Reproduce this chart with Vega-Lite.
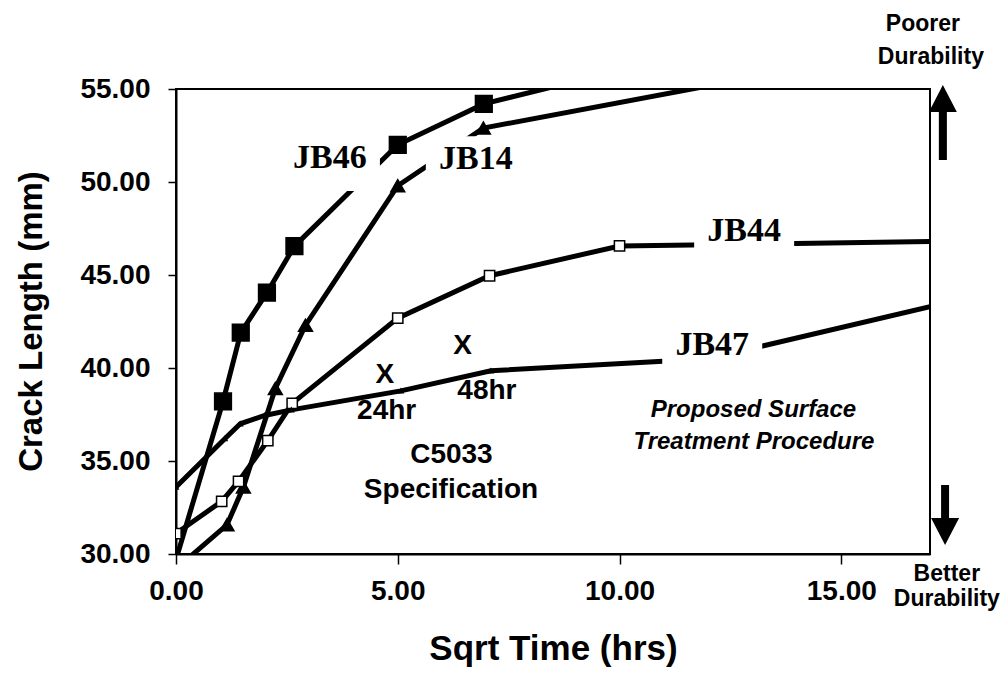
{
  "$schema": "https://vega.github.io/schema/vega-lite/v6.json",
  "width": 754,
  "height": 465,
  "autosize": {"type": "none"},
  "padding": {"left": 176, "top": 89, "right": 72, "bottom": 138},
  "background": "white",
  "config": {
    "view": {"stroke": "black", "strokeWidth": 2},
    "font": "Liberation Sans",
    "axis": {"grid": false, "domainColor": "black", "domainWidth": 2, "tickColor": "black", "tickWidth": 1.5, "labelColor": "black", "titleColor": "black", "labelFont": "Liberation Sans", "titleFont": "Liberation Sans", "labelFontWeight": "bold", "titleFontWeight": "bold", "labelFlush": false, "labelOverlap": false}
  },
  "datasets": {
    "curves": [
      {"s": "JB46", "t": 0, "len": 29.7},
      {"s": "JB46", "t": 1.06, "len": 38.2},
      {"s": "JB46", "t": 1.46, "len": 41.9},
      {"s": "JB46", "t": 2.05, "len": 44.05},
      {"s": "JB46", "t": 2.67, "len": 46.55},
      {"s": "JB46", "t": 5.0, "len": 52.0},
      {"s": "JB46", "t": 6.94, "len": 54.2},
      {"s": "JB46", "t": 10.0, "len": 56.0},
      {"s": "JB14", "t": 0, "len": 29.2},
      {"s": "JB14", "t": 1.15, "len": 31.57},
      {"s": "JB14", "t": 1.52, "len": 33.6},
      {"s": "JB14", "t": 2.24, "len": 38.9},
      {"s": "JB14", "t": 2.92, "len": 42.3},
      {"s": "JB14", "t": 5.0, "len": 49.8},
      {"s": "JB14", "t": 6.93, "len": 52.9},
      {"s": "JB14", "t": 14.0, "len": 56.06},
      {"s": "JB44", "t": 0, "len": 31.1},
      {"s": "JB44", "t": 1.03, "len": 32.83},
      {"s": "JB44", "t": 1.41, "len": 33.9},
      {"s": "JB44", "t": 2.07, "len": 36.1},
      {"s": "JB44", "t": 2.62, "len": 38.1},
      {"s": "JB44", "t": 5.0, "len": 42.68},
      {"s": "JB44", "t": 7.07, "len": 44.96},
      {"s": "JB44", "t": 10.0, "len": 46.56},
      {"s": "JB44", "t": 17.0, "len": 46.8},
      {"s": "JB47", "t": 0, "len": 33.6},
      {"s": "JB47", "t": 1.1, "len": 36.2},
      {"s": "JB47", "t": 1.45, "len": 37.0},
      {"s": "JB47", "t": 2.0, "len": 37.45},
      {"s": "JB47", "t": 2.6, "len": 37.75},
      {"s": "JB47", "t": 5.07, "len": 38.77},
      {"s": "JB47", "t": 7.1, "len": 39.85},
      {"s": "JB47", "t": 12.0, "len": 40.5},
      {"s": "JB47", "t": 17.0, "len": 43.3}
    ],
    "labels": [
      {"label": "JB46", "t": 3.47, "len": 51.27},
      {"label": "JB14", "t": 6.76, "len": 51.25},
      {"label": "JB44", "t": 12.81, "len": 47.36},
      {"label": "JB47", "t": 12.09, "len": 41.26}
    ],
    "notes": [
      {"txt": "X", "t": 4.71, "len": 39.63},
      {"txt": "24hr", "t": 4.75, "len": 37.67},
      {"txt": "X", "t": 6.46, "len": 41.2},
      {"txt": "48hr", "t": 7.01, "len": 38.74},
      {"txt": "C5033", "t": 6.21, "len": 35.3},
      {"txt": "Specification", "t": 6.2, "len": 33.42}
    ],
    "proc": [
      {"txt": "Proposed Surface", "t": 13.02, "len": 37.73},
      {"txt": "Treatment Procedure", "t": 13.03, "len": 36.01}
    ],
    "side": [
      {"txt": "Poorer", "t": 16.84, "len": 58.49},
      {"txt": "Durability", "t": 17.02, "len": 56.72},
      {"txt": "Better", "t": 17.38, "len": 28.92},
      {"txt": "Durability", "t": 17.38, "len": 27.58}
    ],
    "up": [{"dir": "poorer", "t": 17.29, "len": 53.2}],
    "down": [{"dir": "better", "t": 17.34, "len": 32.1}]
  },
  "encoding": {
    "x": {
      "field": "t", "type": "quantitative",
      "scale": {"domain": [0, 17], "nice": false, "zero": false},
      "axis": {"values": [0, 5, 10, 15], "format": ".2f", "labelFontSize": 28, "tickSize": 10, "labelPadding": 13, "title": "Sqrt Time (hrs)", "titleFontSize": 35, "titleY": 105, "titleBaseline": "alphabetic"}
    },
    "y": {
      "field": "len", "type": "quantitative",
      "scale": {"domain": [30, 55], "nice": false, "zero": false},
      "axis": {"values": [30, 35, 40, 45, 50, 55], "format": ".2f", "labelFontSize": 28, "tickSize": 8, "labelPadding": 18, "title": "Crack Length (mm)", "titleFontSize": 33, "titleAngle": -90, "titleX": -135, "titleY": 232, "titleBaseline": "alphabetic", "titleAlign": "center"}
    }
  },
  "layer": [
    {
      "data": {"name": "curves"},
      "mark": {"type": "line", "color": "black", "strokeWidth": 5, "clip": true},
      "encoding": {"detail": {"field": "s", "type": "nominal"}}
    },
    {
      "data": {"name": "curves"},
      "transform": [{"filter": "datum.len >= 30 && datum.len <= 55 && datum.t < 17"}],
      "mark": {"type": "point", "filled": true, "opacity": 1, "stroke": "black", "strokeWidth": 1.5, "clip": true},
      "encoding": {
        "shape": {"field": "s", "type": "nominal", "scale": {"domain": ["JB46", "JB14", "JB44", "JB47"], "range": ["square", "triangle-up", "square", "triangle-up"]}, "legend": null},
        "size": {"field": "s", "type": "nominal", "scale": {"domain": ["JB46", "JB14", "JB44", "JB47"], "range": [280, 18, 80, 18]}, "legend": null},
        "fill": {"field": "s", "type": "nominal", "scale": {"domain": ["JB46", "JB14", "JB44", "JB47"], "range": ["black", "black", "white", "black"]}, "legend": null}
      }
    },
    {
      "data": {"name": "labels"},
      "mark": {"type": "point", "shape": "M-1,-0.45L1,-0.45L1,0.65L-1,0.65Z", "size": 10000, "filled": true, "fill": "white", "opacity": 1, "strokeWidth": 0},
      "encoding": {}
    },
    {
      "data": {"name": "labels"},
      "mark": {"type": "text", "font": "Liberation Serif", "fontWeight": "bold", "fontSize": 34, "color": "black", "align": "center", "baseline": "middle"},
      "encoding": {"text": {"field": "label"}}
    },
    {
      "data": {"name": "notes"},
      "mark": {"type": "text", "font": "Liberation Sans", "fontWeight": "bold", "fontSize": 28, "color": "black", "align": "center", "baseline": "middle"},
      "encoding": {"text": {"field": "txt"}}
    },
    {
      "data": {"name": "proc"},
      "mark": {"type": "text", "font": "Liberation Sans", "fontWeight": "bold", "fontStyle": "italic", "fontSize": 24, "color": "black", "align": "center", "baseline": "middle"},
      "encoding": {"text": {"field": "txt"}}
    },
    {
      "data": {"name": "side"},
      "mark": {"type": "text", "font": "Liberation Sans", "fontWeight": "bold", "fontSize": 23, "color": "black", "align": "center", "baseline": "middle"},
      "encoding": {"text": {"field": "txt"}}
    },
    {
      "data": {"name": "up"},
      "mark": {"type": "point", "shape": "M0,-1L0.373,-0.28L0.107,-0.28L0.107,1L-0.107,1L-0.107,-0.28L-0.373,-0.28Z", "size": 5625, "filled": true, "color": "black", "opacity": 1, "strokeWidth": 0},
      "encoding": {}
    },
    {
      "data": {"name": "down"},
      "mark": {"type": "point", "shape": "M0,1L0.467,0.1L0.133,0.1L0.133,-1L-0.133,-1L-0.133,0.1L-0.467,0.1Z", "size": 3600, "filled": true, "color": "black", "opacity": 1, "strokeWidth": 0},
      "encoding": {}
    }
  ]
}
